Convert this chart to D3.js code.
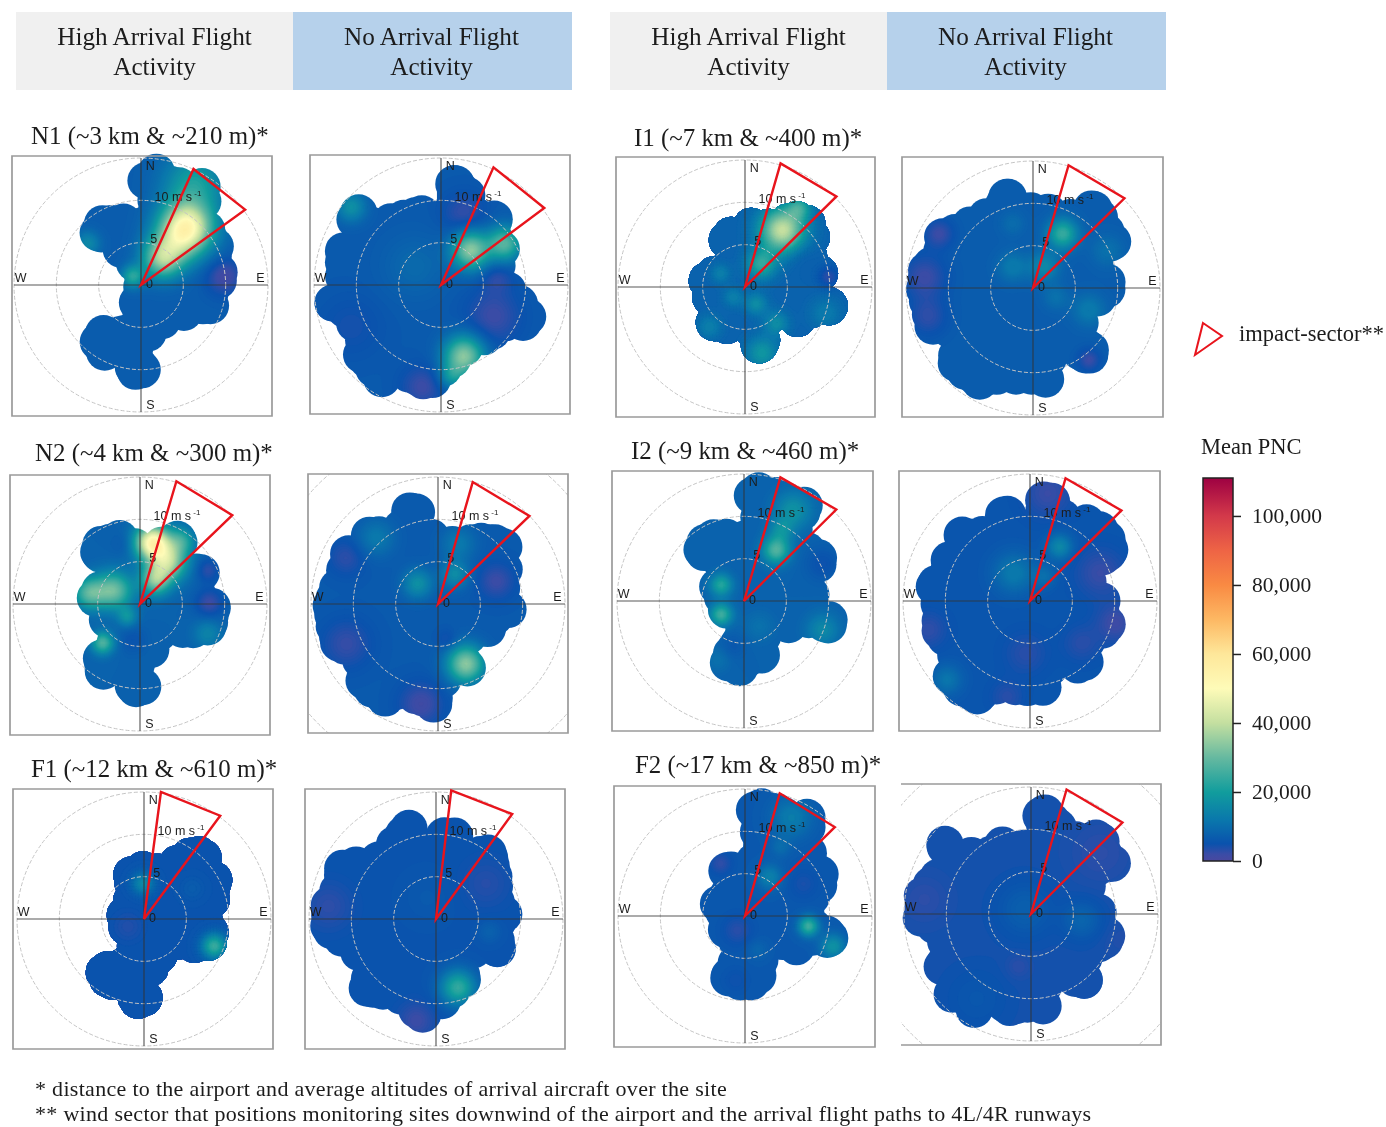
<!DOCTYPE html>
<html>
<head>
<meta charset="utf-8">
<script src="https://cdn.jsdelivr.net/npm/d3@7"></script>
<style>
  html, body { margin: 0; padding: 0; background: #fff; }
  svg { display: block; filter: blur(0.5px); }
  text { font-family: "Liberation Serif", serif; fill: #1c1c1c; }
  .compass text { font-family: "Liberation Sans", sans-serif; }
</style>
</head>
<body>
<div id="chart"></div>
<script>
// wind components: [east m/s, north m/s]
var n1High = [[-0.3,13.9],[0.3,14.5],[2.7,14.3],[5.4,13.7],[7.6,12.4],[9.3,10.8],[8.7,10],[8,9.6],[8,8.8],[9.4,8],[10,6.5],[10.9,5.1],[10.7,3.7],[11.4,1.8],[11.2,-0.2],[10.3,-1.4],[10,-3.7],[8.1,-4.5],[5.8,-5.3],[3.6,-6.1],[2.3,-7.3],[1.3,-8.2],[1.3,-11.2],[0,-12.2],[-1.9,-11],[-2.3,-9.6],[-4.8,-9.8],[-6.3,-8.8],[-5.9,-7.3],[-6.6,-6.1],[-6.3,-4.9],[-4.3,-4.5],[-2.6,-4.1],[-2.6,-1.8],[-2.1,-0.2],[-2.6,1.4],[-4.1,2.9],[-4.6,4.1],[-6.5,4.5],[-6.9,6.1],[-6.4,8.4],[-3.9,9.4],[-1.7,9.6],[-0.9,8.9],[-0.4,10.4]];
var n1None = [[-0.4,12.3],[0.2,13.7],[2,14.1],[3.5,13.1],[4.9,11.8],[5.6,9.8],[7.5,9.6],[8.3,8],[8.4,6.1],[9.3,4.5],[8.8,2.5],[9.7,0.6],[11.1,-1],[11.7,-2.5],[12.4,-4.1],[11.1,-6.1],[8.4,-6.5],[6.2,-8],[4,-9.2],[1.8,-11.4],[0,-13.1],[-2.2,-13.5],[-4.9,-12.4],[-5.8,-11.6],[-6.2,-13.1],[-9.3,-11.6],[-11.5,-8.8],[-11.3,-6.9],[-12.8,-4.5],[-14.6,-3.3],[-14.8,-1.4],[-13.7,-0.8],[-13.7,2.9],[-13.3,5.3],[-11.1,6.5],[-11.9,8.8],[-10.6,10.3],[-8,9.2],[-4.9,10],[-2.2,10.6],[-0.4,10.2]];
var n2High = [[-0.2,8.9],[2.2,9.1],[4,9.6],[5.8,9.1],[6.6,7.9],[6.2,6],[7.5,5.8],[9.1,4.8],[8.8,2],[10.2,1.1],[10.7,-0.3],[10.2,-3.1],[9.1,-4.6],[6.6,-5.2],[3.5,-5.2],[3.1,-6.6],[1.5,-8.2],[1.3,-11.3],[-0.2,-11.9],[-2,-10.5],[-2.7,-9.5],[-4.6,-10.1],[-6.4,-8.2],[-6.5,-5.4],[-5.1,-4.2],[-6,-2.3],[-6,0.1],[-6.9,1.3],[-6.4,2.6],[-4.4,2.8],[-4,3.6],[-6.2,4.4],[-6.9,5.8],[-6.4,8.3],[-4.4,9.3],[-2.2,9.9]];
var n2None = [[0,9.9],[2,9.2],[5.1,9.6],[7.7,9.2],[9.7,7.8],[9.3,6.3],[10,4.3],[9.7,2],[10.3,-0.4],[10,-2],[8.2,-3.1],[7.1,-4.7],[5.3,-5.1],[5.1,-9],[3.1,-9.4],[1.3,-11.4],[1.1,-13.3],[-2,-13.3],[-4.6,-12.5],[-6.2,-13.3],[-9.1,-11.8],[-10.8,-9.8],[-11.1,-7.6],[-13.5,-5.9],[-14.4,-3.1],[-14.8,0],[-13.9,2.7],[-13.1,4.7],[-12.4,7.1],[-10,8.2],[-9.5,9.8],[-5.5,10.8],[-4,12.5],[-2.9,13.1],[-1.5,12.2],[-1.1,10.4]];
var f1High = [[0,8],[1.2,7.7],[3,8.5],[4.8,9.5],[7,9.7],[8.8,8.5],[9,6.8],[10.3,5.4],[10.1,1.9],[9.4,-0.5],[10,-1.6],[9.4,-4],[7.9,-4.6],[6.1,-5.2],[4.3,-4.8],[3.5,-5.6],[2.3,-7.3],[1.3,-7.9],[1.2,-10.7],[0,-11.5],[-1.9,-10.7],[-2.3,-8.9],[-4.1,-9.5],[-6.1,-8.3],[-6.5,-6],[-6.1,-4.6],[-4.1,-4],[-3.2,-3.2],[-4.1,-1.6],[-4.4,0.7],[-3.6,2.7],[-3.4,6.2],[-1,7.8]];
var f1None = [[-0.1,9.9],[0.8,11.5],[2.1,11.7],[3.5,9.9],[7.2,9.7],[8.3,8.2],[9,5.4],[9.2,2.7],[10.2,0.7],[9.4,-0.9],[9.2,-4.4],[7.9,-5.6],[5.4,-5.6],[5,-8.3],[1.9,-11.5],[0.1,-12],[-1.2,-13.4],[-3.4,-12.6],[-5.2,-11],[-8.3,-10.3],[-10,-9.3],[-10,-7.5],[-10.9,-5.2],[-14,-2.8],[-14.8,-1.3],[-14.7,2.3],[-13.6,4.2],[-12.7,7.4],[-10,8.5],[-7.8,8.9],[-5.2,11.7],[-3.2,12.9],[-1.6,11.7],[-0.5,9.9]];
var i1High = [[0,8.6],[0.6,9.1],[2.4,9.2],[4.6,9.8],[6.4,10.1],[7.9,9.4],[9.2,8.6],[9,7.5],[10,6.3],[9.7,3.9],[10.4,2.7],[11,1.6],[10.4,-0.4],[11.8,-1.2],[12,-3.1],[10.6,-4.1],[8.6,-4.7],[6.2,-5.9],[3.9,-5.3],[3.9,-7.3],[2,-9],[0.4,-7.8],[-0.3,-6.7],[-2.5,-6.7],[-3.8,-6.1],[-5.4,-5.5],[-5.4,-3.9],[-6.2,-1.6],[-6.2,0.4],[-6.5,1.6],[-5.1,3.1],[-3.4,4.3],[-3.8,6.3],[-3.1,7.5],[-0.9,7.8],[-0.7,8.8]];
var i1None = [[0,11.3],[2.2,11.1],[4.2,10.5],[6.6,11.5],[8.4,11.1],[9.7,9.5],[10.6,7.6],[11.6,5.6],[10.8,4],[9.5,2.7],[10.7,1.7],[10.7,-1.1],[9.3,-2.6],[7.7,-4.6],[8.4,-6.5],[8.4,-9.3],[5.8,-9.7],[3.3,-9.9],[3.3,-12],[0,-12.6],[-4,-12.6],[-6.4,-13.2],[-9.3,-11.6],[-11.1,-9.7],[-11.3,-6.5],[-13.3,-6.1],[-14.2,-3.8],[-15,-0.3],[-14.6,2.9],[-12.8,5.2],[-12.4,7.4],[-10.2,8.5],[-6.6,10.3],[-4.9,11.5],[-3.8,12.7],[-2.2,12.7],[-1.1,11.5]];
var i2High = [[-0.4,13.5],[0.2,14.5],[2.2,14.5],[4.2,14.6],[7.1,13.1],[9.3,11.3],[8.2,10.1],[8,9.1],[9.1,7.4],[10.8,6],[10.8,3.6],[9.7,2.9],[10.4,-0.5],[11.9,-1.8],[11.9,-3.4],[10,-4.8],[7.7,-4.4],[4,-5.4],[3.8,-7.7],[1.5,-8.7],[0,-10],[-1.8,-9.5],[-4,-7.7],[-3.5,-5.4],[-2.2,-3.4],[-3.8,-2.4],[-4.6,-0.3],[-5.3,1.7],[-4.6,3.6],[-6.4,4.4],[-6.9,5.6],[-6.6,7.8],[-4.4,9.5],[-1.8,9.7],[-0.9,9.3],[-0.4,10.3]];
var i2None = [[-0.3,11.7],[0.1,13.5],[2.1,14],[3.9,13.5],[5,11.7],[7.4,11.3],[9.6,10.1],[11,8.4],[11.6,5.8],[11,4.4],[9,2.7],[10.5,0.9],[10.5,-0.7],[11.3,-2.6],[10.1,-5],[8.5,-6],[8.1,-8.7],[6.1,-9.7],[3.5,-9.7],[3.2,-11.6],[-0.1,-12.4],[-3.6,-12.2],[-6.3,-13.4],[-9.4,-12],[-11.4,-9.5],[-10.9,-6.9],[-12.7,-4.2],[-12.9,-0.7],[-13.5,1.7],[-12.9,3.3],[-11.6,4.4],[-11.4,6],[-9.6,7.6],[-9.6,9.3],[-7.6,9.7],[-4.5,10.3],[-4.3,11.7],[-2.7,12.3],[-1.2,11.1]];
var f2High = [[-0.2,13.2],[0,14.4],[2,14.5],[4.1,14.5],[6.9,13.2],[9.1,11.8],[9.3,10.7],[8.2,9.9],[9.5,8.3],[9.5,6.9],[10.8,6],[10.8,3],[10,1.8],[10,-0.3],[11.3,-0.7],[11.9,-2.5],[11.7,-4],[10,-4.8],[8.6,-4.6],[6.4,-5.8],[4.6,-5.2],[3.8,-6],[3.5,-8],[1.3,-9.9],[-1.1,-9.9],[-3.3,-8.7],[-4.1,-7.2],[-3.1,-4.8],[-2.9,-4],[-4.2,-2.5],[-4.6,-0.1],[-5.3,1.8],[-4,3.4],[-4,6.5],[-2.4,7.5],[-0.7,7.7],[-0.6,10.1]];
var f2None = [[-0.4,11.1],[-0.2,13.1],[1.3,13.8],[3.5,12.9],[5.8,10.9],[8.2,11.1],[10,9.9],[10.6,8],[11.8,6],[10.6,4.4],[8.8,2.9],[10,0.9],[10,-0.7],[11.1,-2.2],[10.6,-4.2],[8.2,-6.2],[8.2,-8.9],[6.9,-9.9],[3.3,-9.7],[3.3,-12],[0,-12.8],[-2.9,-13.2],[-5.5,-11.8],[-6.2,-13.4],[-9.5,-11.3],[-11.5,-9.3],[-10.4,-8.9],[-12.4,-7.3],[-12.2,-3.8],[-13.9,-1.8],[-15,-1.3],[-14.9,2.9],[-13.5,4.8],[-11.7,6.8],[-12.2,8.7],[-10.4,10.4],[-8.6,9.1],[-5.5,9.1],[-3.8,10.3],[-1.5,9.9]];

// PNC hot and cold spots: [east, north, spread m/s, PNC above or below the panel's background]
var n1HighSpots = [[5.4,6.8,2.1,42000],[2.5,3.1,1.6,26000],[4.1,4.9,2,10000],[-1,1,0.9,16000],[6.3,12,2.5,14000],[9.8,1,1.5,-6000],[-6.3,4.9,1,9000]];
var n1NoneSpots = [[3.5,4.1,1.5,28000],[7.5,4.9,1.4,22000],[2.7,-8.4,1.6,28000],[1.3,-10.8,1,10000],[6.2,-3.7,2.2,-4500],[6.6,1,1.3,-3500],[-2.2,-12,1.7,-4500],[-10.6,9.2,1.2,11000],[-3.1,2.2,2.5,3000],[2.7,8.4,1.7,-4000],[-10.6,-4.9,2.5,-2000]];
var n2HighSpots = [[1.5,7.3,1.4,44000],[3.3,5,1.5,30000],[1.8,2.8,1.2,24000],[4.9,7.5,1.1,14000],[-3.1,1.6,1.5,23000],[-6,1.3,1.3,20000],[-1.5,-1.5,0.8,10000],[-4.4,-4.6,0.9,20000],[8.2,0.1,1.2,-6000],[8,4,1,-5000],[8,-3.5,1.1,7000],[-0.9,-4.2,1.2,-2500],[-1.8,7.1,1,-2000]];
var n2NoneSpots = [[3.3,-7.1,1.5,28000],[-2.4,2.4,1.2,11000],[2,3.5,1.1,10000],[2.4,7.1,1.4,6000],[-7.3,7.8,1.5,6000],[6.9,2.7,1.5,-4500],[-10.8,5.5,1.5,-3500],[-10.8,-4.7,2,-4000],[-2,-11.8,1.8,-5000],[1.1,-4.3,0.8,-3000]];
var f1HighSpots = [[-0.1,4.2,0.9,11000],[8.3,-3.2,1,20000],[-1.9,-0.9,1.2,-1800],[5.7,3.6,1,1500]];
var f1NoneSpots = [[2.6,-8.1,1.4,19000],[-2.3,-12,1.5,-3500],[6.3,-1.5,0.9,2500],[-12.7,1.5,2,-2500],[5.9,4.2,2,-2000],[-1,2.5,2,1000]];
var i1HighSpots = [[4.4,6.7,1.8,33000],[1.9,2.7,1.2,16000],[6.4,9.4,1,14000],[-2.9,1.6,0.8,6000],[-1.4,-1.2,0.8,6000],[1.3,-2,0.9,9000],[3.7,-4.3,1,9000],[2,-7.8,1.3,11000],[9.9,1.2,0.9,-5000],[9.5,-3.1,1.3,5000],[-4.2,-4.7,1,6000],[6.4,3.9,1.2,-2000]];
var i1NoneSpots = [[3.5,6.4,1.2,18000],[1.3,2.5,1.2,9000],[-2.4,2.5,1.2,6000],[-2.4,7.6,1,3000],[6.6,-2.6,1.3,6000],[2.7,-1.1,1,4000],[8.8,4.4,1.3,4000],[6.6,-8.5,0.9,-5000],[-12.8,1.3,1.8,-5000],[-12.4,-3.4,1.6,-4000],[-11.1,6.4,1.2,-5000]];
var i2HighSpots = [[3.8,6,1.1,20000],[5.8,10.7,1.5,10000],[4.4,8.4,1,8000],[-2.7,1.9,0.9,15000],[-2.7,-1.6,0.9,18000],[9.3,-3.4,1.3,8000],[1.8,-3,1.2,3000],[9.3,4.4,1.4,-3000],[-3.1,-6.9,1,3000],[-1.3,-5.4,1,-2000]];
var i2NoneSpots = [[3.5,6.4,1,10000],[-1.9,3.3,1.6,7000],[1.7,2.9,0.9,4500],[-9.8,-9.3,1.2,6000],[2.1,12.7,2,-3500],[10.1,-2.6,1.6,-4000],[8.3,3.3,2,-3500],[-0.5,-6.2,1.7,-2500],[6.1,-5,1.5,-2500],[-12,-3.4,1.5,-3000],[-2.7,-11.3,1.3,-2500]];
var f2HighSpots = [[7.5,-1.2,0.8,20000],[10.4,-3.6,1,12000],[2.9,4.6,1,8000],[5.5,11.6,1.6,7000],[4.2,8.1,0.8,3500],[-2.9,6.2,0.9,-3500],[-0.9,-1.7,1.2,-3000],[1.5,-4,0.8,2500],[6.9,3.8,1.2,-2000],[-1.1,-7.6,1,-1500]];
var f2NoneSpots = [[-0.7,0.5,2.2,3000],[6,-0.7,1.5,4000],[-6.4,-10,2.5,1500],[10.6,-3,1.5,-800],[-12.6,1.7,2,-1500],[-1.5,-6.2,1,-1500],[8.2,7.2,2.5,-1500]];

// background PNC of every panel
var panelBackground = [7000,6500,8000,6500,5500,5500,8000,7000,8000,5800,6300,4600];

// impact sector corners: [east, north] twice
var panelSectors = [
    [[6.2,13.7],[12.3,8.9]], [[6.2,13.9],[12.2,9.1]],
    [[4.3,14.5],[10.9,10.5]], [[4.1,14.4],[10.8,10.4]],
    [[2,15],[9,12.2]], [[1.8,15.2],[9,12.4]],
    [[4.2,14.6],[10.8,10.7]], [[4.2,14.5],[10.8,10.6]],
    [[4.3,14.6],[10.9,10.8]], [[4.2,14.5],[10.8,10.7]],
    [[4.1,14.5],[10.6,10.5]], [[4.2,14.7],[10.8,10.8]]
];

var panelOutlines = [n1High,n1None,n2High,n2None,f1High,f1None,i1High,i1None,i2High,i2None,f2High,f2None];
var panelSpots = [n1HighSpots,n1NoneSpots,n2HighSpots,n2NoneSpots,f1HighSpots,f1NoneSpots,i1HighSpots,i1NoneSpots,i2HighSpots,i2NoneSpots,f2HighSpots,f2NoneSpots];

var ringSpeeds = [5,10,15];
var compassLabels = ["N","E","S","W"];
var siteTitles = ["N1 (~3 km & ~210 m)*","N2 (~4 km & ~300 m)*","F1 (~12 km & ~610 m)*","I1 (~7 km & ~400 m)*","I2 (~9 km & ~460 m)*","F2 (~17 km & ~850 m)*"];
var headerLabels = [["High Arrival Flight","Activity"],["No Arrival Flight","Activity"]];
var footnotes = ["* distance to the airport and average altitudes of arrival aircraft over the site",
    "** wind sector that positions monitoring sites downwind of the airport and the arrival flight paths to 4L/4R runways"];
var legendTicks = [0,20000,40000,60000,80000,100000];
var colourStops = [0,2000,5000,12000,20000,30000,40000,50000,60000,70000,80000,90000,100000,111000];
var colourValues = ["#4a489f","#3a4ca6","#0a52ad","#0a78ac","#119d9d","#66b9a0","#c4dfa0","#fefbb8","#fee79a","#fdb863","#f98a43","#ee6445","#d3394a","#9e0142"];

// layout: box left, top, right, bottom, centre x, centre y
var panelBoxes = [
    [12,156,272,416,141,285],[310,155,570,414,441,285],
    [10,475,270,735,140,604],[308,474,568,733,438,604],
    [13,789,273,1049,144,919],[305,789,565,1049,436,919],
    [616,157,875,417,745,287],[902,157,1163,417,1033,288],
    [612,471,873,731,744,601],[899,471,1160,731,1030,601],
    [614,786,875,1047,745,916],[901,784,1161,1045,1031,914]
];
var titlePositions = [[31,144],[35,461],[31,777],[634,146],[631,459],[635,773]];
var headerBoxes = [[16,293,572],[610,887,1166]];
var extraRingPanels = [3,11];
var openLeftPanel = 11;
var lobeRadius = 2.2;

var svg = d3.select("#chart").append("svg")
    .attr("width", 1386)
    .attr("height", 1127);

var colour = d3.scaleLinear().domain(colourStops).range(colourValues).clamp(true);
var levels = d3.range(400, 12000, 400).concat(d3.range(12000, 111000, 1000));
var gridSize = 80;
var gridSpeed = d3.scaleLinear().domain([0, gridSize]).range([-16, 16]);

// lobe centres sit just inside the outline, so lobes touch it from within
function lobeCentres(points) {
    var dense = [];
    points.forEach(function (a, i) {
        var b = points[(i + 1) % points.length];
        dense.push(a);
        if (Math.hypot(b[0] - a[0], b[1] - a[1]) > 2.6) {
            dense.push([(a[0] + b[0]) / 2, (a[1] + b[1]) / 2]);
        }
    });
    return dense.map(function (d, i) {
        var prev = dense[(i + dense.length - 1) % dense.length];
        var next = dense[(i + 1) % dense.length];
        var tx = next[0] - prev[0], ty = next[1] - prev[1];
        var len = Math.hypot(tx, ty) || 1;
        // outlines run clockwise, inside is on the right
        return [d[0] + lobeRadius * ty / len, d[1] - lobeRadius * tx / len];
    });
}

// header bands
headerBoxes.forEach(function (h) {
    [0, 1].forEach(function (k) {
        svg.append("rect")
            .attr("x", h[k]).attr("y", 12)
            .attr("width", h[k + 1] - h[k]).attr("height", 78)
            .attr("fill", k == 0 ? "#f0f0f0" : "#b6d1eb");
        headerLabels[k].forEach(function (line, i) {
            svg.append("text")
                .attr("x", (h[k] + h[k + 1]) / 2 - (k == 0 ? 0 : 1))
                .attr("y", 45 + i * 30)
                .attr("text-anchor", "middle")
                .attr("font-size", 25.2)
                .text(line);
        });
    });
});

siteTitles.forEach(function (t, i) {
    svg.append("text")
        .attr("x", titlePositions[i][0]).attr("y", titlePositions[i][1])
        .attr("font-size", 24.9)
        .text(t);
});

panelBoxes.forEach(function (box, p) {
    var x = d3.scaleLinear().domain([-15, 15]).range([box[4] - 127, box[4] + 127]);
    var y = d3.scaleLinear().domain([-15, 15]).range([box[5] + 127, box[5] - 127]);
    var g = svg.append("g");
    var toPath = d3.line()
        .x(function (d) { return x(d[0]); })
        .y(function (d) { return y(d[1]); })
        .curve(d3.curveLinearClosed);

    var boxClip = "box" + p;
    svg.append("clipPath").attr("id", boxClip).append("rect")
        .attr("x", box[0]).attr("y", box[1])
        .attr("width", box[2] - box[0]).attr("height", box[3] - box[1]);

    // cover = shrunken outline plus round lobes along the edge, gives the scallops
    var outlinePoints = panelOutlines[p];
    var lobes = lobeCentres(outlinePoints);
    var midU = d3.mean(outlinePoints, function (d) { return d[0]; });
    var midV = d3.mean(outlinePoints, function (d) { return d[1]; });
    var inner = outlinePoints.map(function (d) {
        return [midU + (d[0] - midU) * 0.9, midV + (d[1] - midV) * 0.9];
    });
    var clipId = "cover" + p;
    var clip = svg.append("clipPath").attr("id", clipId);
    clip.append("path").attr("d", toPath(inner));
    clip.selectAll("circle")
        .data(lobes)
        .enter()
        .append("circle")
        .attr("cx", function (d) { return x(d[0]); })
        .attr("cy", function (d) { return y(d[1]); })
        .attr("r", x(lobeRadius) - x(0));

    // build the PNC surface from the spots and contour it
    var values = new Array(gridSize * gridSize);
    for (var j = 0; j < gridSize; j++) {
        for (var i = 0; i < gridSize; i++) {
            var u = gridSpeed(i + 0.5), v = -gridSpeed(j + 0.5);
            var val = panelBackground[p];
            panelSpots[p].forEach(function (s) {
                var d2 = (u - s[0]) * (u - s[0]) + (v - s[1]) * (v - s[1]);
                val += s[3] * Math.exp(-d2 / (2 * s[2] * s[2]));
            });
            values[j * gridSize + i] = val;
        }
    }
    var toScreen = d3.geoTransform({
        point: function (px, py) {
            this.stream.point(x(gridSpeed(px)), y(-gridSpeed(py)));
        }
    });
    var bands = d3.contours().size([gridSize, gridSize]).thresholds(levels)(values)
        .filter(function (c) { return c.coordinates.length > 0; });
    var field = g.append("g").attr("clip-path", "url(#" + clipId + ")");
    field.append("rect")
        .attr("x", x(-16)).attr("y", y(16))
        .attr("width", x(16) - x(-16)).attr("height", y(-16) - y(16))
        .attr("fill", colour(0));
    field.selectAll("path")
        .data(bands)
        .enter()
        .append("path")
        .attr("d", d3.geoPath(toScreen))
        .attr("fill", function (d) { return colour(d.value); })
        .attr("stroke", function (d) { return colour(d.value); })
        .attr("stroke-width", 0.4);

    // speed rings
    var rings = ringSpeeds.slice();
    if (extraRingPanels.indexOf(p) >= 0) rings.push(20);
    g.append("g")
        .attr("clip-path", "url(#" + boxClip + ")")
        .selectAll("circle")
        .data(rings)
        .enter()
        .append("circle")
        .attr("cx", x(0))
        .attr("cy", y(0))
        .attr("r", function (d) { return x(d) - x(0); })
        .attr("fill", "none")
        .attr("stroke", "#c4c4c4")
        .attr("stroke-width", 1)
        .attr("stroke-dasharray", "4,2");

    // compass cross
    g.append("line").attr("x1", Math.max(x(-15), box[0] + 2)).attr("x2", x(15))
        .attr("y1", y(0)).attr("y2", y(0));
    g.append("line").attr("x1", x(0)).attr("x2", x(0))
        .attr("y1", y(15)).attr("y2", y(-15));
    g.selectAll("line")
        .attr("stroke", "#333")
        .attr("stroke-opacity", 0.55)
        .attr("stroke-width", 1.7);

    // box
    var frame = p == openLeftPanel
        ? "M" + box[0] + "," + box[1] + "H" + box[2] + "V" + box[3] + "H" + box[0]
        : "M" + box[0] + "," + box[1] + "H" + box[2] + "V" + box[3] + "H" + box[0] + "Z";
    g.append("path").attr("d", frame)
        .attr("fill", "none").attr("stroke", "#9a9a9a").attr("stroke-width", 1.7);

    // labels
    var labels = g.append("g").attr("class", "compass").attr("font-size", 12.5);
    var labelSpots = [[1.1,14.0],[14.1,0.8],[1.1,-14.2],[-14.2,0.8]];
    compassLabels.forEach(function (c, i) {
        labels.append("text")
            .attr("x", x(labelSpots[i][0])).attr("y", y(labelSpots[i][1]))
            .attr("text-anchor", "middle")
            .attr("dominant-baseline", "middle")
            .text(c);
    });
    labels.append("text").attr("x", x(1)).attr("y", y(0)).attr("text-anchor", "middle")
        .attr("dominant-baseline", "middle").text("0");
    labels.append("text").attr("x", x(1.5)).attr("y", y(5.4)).attr("text-anchor", "middle")
        .attr("dominant-baseline", "middle").text("5");
    var unit = labels.append("text").attr("x", x(1.6)).attr("y", y(10.3))
        .attr("dominant-baseline", "middle");
    unit.append("tspan").text("10 m s");
    unit.append("tspan").attr("dy", -4).attr("font-size", 8).text(" -1");

    // impact sector
    var corners = [[0, 0], panelSectors[p][0], panelSectors[p][1]];
    g.append("path")
        .attr("d", toPath(corners))
        .attr("fill", "none")
        .attr("stroke", "#e8141c")
        .attr("stroke-width", 2.4);
});

// legend sector
svg.append("path")
    .attr("d", "M1203,323L1222,336L1195,355Z")
    .attr("fill", "none")
    .attr("stroke", "#e8141c")
    .attr("stroke-width", 2);
svg.append("text").attr("x", 1239).attr("y", 341).attr("font-size", 22.5).text("impact-sector**");
svg.append("text").attr("x", 1201).attr("y", 454).attr("font-size", 22.5).text("Mean PNC");

// colour bar
var barScale = d3.scaleLinear().domain([0, 111000]).range([861, 478]);
var gradient = svg.append("linearGradient")
    .attr("id", "barFill")
    .attr("x1", 0).attr("x2", 0).attr("y1", 1).attr("y2", 0);
gradient.selectAll("stop")
    .data(colourStops)
    .enter()
    .append("stop")
    .attr("offset", function (d) { return d / 111000; })
    .attr("stop-color", function (d) { return colour(d); });
svg.append("rect")
    .attr("x", 1203).attr("y", 478).attr("width", 30).attr("height", 383)
    .attr("fill", "url(#barFill)")
    .attr("stroke", "#222").attr("stroke-width", 1.5);
var barAxis = svg.append("g")
    .attr("transform", "translate(1233,0)")
    .call(d3.axisRight(barScale).tickValues(legendTicks).tickSize(8).tickPadding(11).tickFormat(d3.format(",")));
barAxis.select(".domain").remove();
barAxis.selectAll("line").attr("stroke", "#222").attr("stroke-width", 1.5);
barAxis.selectAll("text")
    .attr("font-family", "Liberation Serif")
    .attr("font-size", 21.5)
    .attr("fill", "#1c1c1c");

// footnotes
footnotes.forEach(function (f, i) {
    svg.append("text")
        .attr("x", 35).attr("y", 1096 + i * 25)
        .attr("font-size", 22)
        .attr("letter-spacing", 0.3)
        .text(f);
});
</script>
</body>
</html>
